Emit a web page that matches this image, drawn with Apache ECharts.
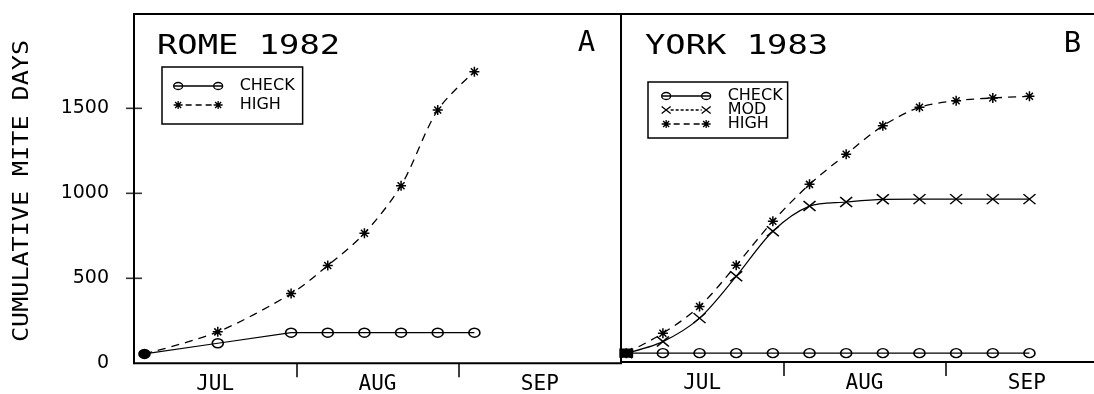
<!DOCTYPE html>
<html>
<head>
<meta charset="utf-8">
<script src="https://cdn.jsdelivr.net/npm/echarts@6/dist/echarts.min.js"></script>
<style>
html,body{margin:0;padding:0;background:#fff;}
#chart{width:1094px;height:394px;}
</style>
</head>
<body>
<div id="chart"></div>
<script>
// ---- data (days counted from 1 July; axis spans three equal month bands) ----
const months = ['JUL', 'AUG', 'SEP'];
const monthBounds = [31, 62];
const monthCenters = [15.5, 46.5, 77.5];
const yTickValues = [500, 1000, 1500];
const yLabelValues = [0, 500, 1000, 1500];
const yTitle = 'CUMULATIVE MITE DAYS';

const daysA = [2, 16, 30, 37, 44, 51, 58, 65];
const checkA = [55, 118, 180, 180, 180, 180, 180, 180];
const highA = [55, 185, 410, 575, 765, 1045, 1490, 1715];

const daysB = [1, 8, 15, 22, 29, 36, 43, 50, 57, 64, 71, 78];
const checkB = [52, 52, 52, 52, 52, 52, 52, 52, 52, 52, 52, 52];
const modB = [52, 120, 258, 504, 769, 917, 941, 957, 958, 958, 958, 958];
const highB = [52, 169, 327, 569, 828, 1045, 1222, 1389, 1498, 1537, 1553, 1563];

// ---- styling helpers ----
const BLACK = '#000';
const CLEAR = 'rgba(0,0,0,0)';
const MONO = '"DejaVu Sans Mono"';
const SANS = '"DejaVu Sans"';
const starSym = 'path://M0,5L10,5M5,0L5,10M1.5,1.5L8.5,8.5M1.5,8.5L8.5,1.5';
const crossSym = 'path://M0,0L10,10M0,10L10,0';

const iconCheck = 'path://M0,5L49,5M9,5A4.5,3.5,0,1,1,0,5A4.5,3.5,0,1,1,9,5M49,5A4.5,3.5,0,1,1,40,5A4.5,3.5,0,1,1,49,5M61,5';
const iconHigh = 'path://M0,5L9,5M4.5,1L4.5,9M1.5,2L7.5,8M1.5,8L7.5,2M40,5L49,5M44.5,1L44.5,9M41.5,2L47.5,8M41.5,8L47.5,2M12,5L18,5M22,5L28,5M32,5L38,5M61,5';
const iconMod = 'path://M0,1.5L9,8.5M0,8.5L9,1.5M40,1.5L49,8.5M40,8.5L49,1.5M9,5L12,5M14,5L17,5M19,5L22,5M24,5L27,5M29,5L32,5M34,5L37,5M39,5L40,5M61,5';
const legendItemStyle = {color: CLEAR, borderColor: BLACK, borderWidth: 1.3};

function pts(days, vals, firstStyle) {
  return days.map((d, i) => {
    if (i === 0 && firstStyle) return Object.assign({value: [d, vals[i]]}, firstStyle);
    return [d, vals[i]];
  });
}

function xAxisFor(gridIndex) {
  return {
    type: 'value', gridIndex: gridIndex, min: 0, max: 93,
    axisLine: {show: false},
    splitLine: {show: false},
    axisTick: {show: true, inside: false, length: 14, customValues: monthBounds,
               lineStyle: {color: BLACK, width: 1.5}},
    axisLabel: {show: true, customValues: monthCenters, margin: 11,
                formatter: v => months[monthCenters.indexOf(v)] || '',
                color: BLACK, fontFamily: MONO, fontSize: 21}
  };
}

const commonGrid = {show: true, borderColor: BLACK, borderWidth: 2, backgroundColor: 'transparent',
                    outerBoundsMode: 'none'};

const option = {
  animation: false,
  backgroundColor: '#fff',
  grid: [
    Object.assign({left: 134, top: 14, right: 473, bottom: 30.7}, commonGrid),
    Object.assign({left: 621, top: 14, right: -14, bottom: 32}, commonGrid)
  ],
  xAxis: [xAxisFor(0), xAxisFor(1)],
  yAxis: [
    {
      type: 'value', gridIndex: 0, min: 0, max: 2055, position: 'left',
      axisLine: {show: true, lineStyle: {color: BLACK, width: 2}},
      splitLine: {show: false},
      axisTick: {show: false},
      axisLabel: {show: true, customValues: yLabelValues, margin: 25,
                  formatter: v => String(v),
                  color: BLACK, fontFamily: SANS, fontSize: 19}
    },
    {
      type: 'value', gridIndex: 1, min: 0, max: 2047, show: false,
      splitLine: {show: false}
    }
  ],
  legend: [
    {
      left: 162, top: 67, orient: 'vertical', selectedMode: false,
      padding: [11, 8, 11, 11], itemGap: 3, itemWidth: 61, itemHeight: 10,
      borderColor: BLACK, borderWidth: 1.5,
      textStyle: {color: BLACK, fontFamily: SANS, fontSize: 16},
      data: [
        {name: 'CHECK', icon: iconCheck, itemStyle: legendItemStyle},
        {name: 'HIGH', icon: iconHigh, itemStyle: legendItemStyle}
      ]
    },
    {
      left: 648, top: 82, orient: 'vertical', selectedMode: false,
      padding: [6, 5, 6, 13], itemGap: -2, itemWidth: 61, itemHeight: 10,
      borderColor: BLACK, borderWidth: 1.5,
      textStyle: {color: BLACK, fontFamily: SANS, fontSize: 16},
      data: [
        {name: 'CHECK', icon: iconCheck, itemStyle: legendItemStyle},
        {name: 'MOD', icon: iconMod, itemStyle: legendItemStyle},
        {name: 'HIGH', icon: iconHigh, itemStyle: legendItemStyle}
      ]
    }
  ],
  graphic: [
    {type: 'text', x: 22, y: 191, rotation: Math.PI / 2, scaleX: 1.14,
     style: {text: yTitle, font: '22px ' + MONO, fill: BLACK, align: 'center', verticalAlign: 'middle'}},
    {type: 'text', x: 157, y: 47, scaleX: 1.3,
     style: {text: 'ROME 1982', font: '26px ' + MONO, fill: BLACK, align: 'left', verticalAlign: 'middle'}},
    {type: 'text', x: 586.5, y: 43,
     style: {text: 'A', font: '29px ' + MONO, fill: BLACK, align: 'center', verticalAlign: 'middle'}},
    {type: 'text', x: 645, y: 47, scaleX: 1.3,
     style: {text: 'YORK 1983', font: '26px ' + MONO, fill: BLACK, align: 'left', verticalAlign: 'middle'}},
    {type: 'text', x: 1072.5, y: 44,
     style: {text: 'B', font: '29px ' + MONO, fill: BLACK, align: 'center', verticalAlign: 'middle'}}
  ],
  series: [
    {
      // crossing y-axis tick marks, placed through the axis scale at x = 0
      type: 'scatter', xAxisIndex: 0, yAxisIndex: 0, silent: true, clip: false,
      data: yTickValues.map(v => [0, v]),
      symbol: 'rect', symbolSize: [16, 1.6],
      itemStyle: {color: BLACK}, z: 5
    },
    {
      name: 'CHECK', type: 'line', xAxisIndex: 0, yAxisIndex: 0,
      data: pts(daysA, checkA, {itemStyle: {color: BLACK}}),
      symbol: 'circle', symbolSize: [11, 9], showAllSymbol: true,
      itemStyle: {color: CLEAR, borderColor: BLACK, borderWidth: 1.5},
      lineStyle: {color: BLACK, width: 1.2, type: 'solid'},
      emphasis: {disabled: true}, z: 3
    },
    {
      name: 'HIGH', type: 'line', xAxisIndex: 0, yAxisIndex: 0,
      data: pts(daysA, highA),
      symbol: starSym, symbolSize: 10, showAllSymbol: true, smooth: 0.3,
      itemStyle: {color: CLEAR, borderColor: BLACK, borderWidth: 1.5},
      lineStyle: {color: BLACK, width: 1.3, type: [8, 6]},
      emphasis: {disabled: true}, z: 2
    },
    {
      name: 'CHECK', type: 'line', xAxisIndex: 1, yAxisIndex: 1,
      data: pts(daysB, checkB, {symbol: 'rect', symbolSize: [12, 8], itemStyle: {color: BLACK}}),
      symbol: 'circle', symbolSize: [11, 9], showAllSymbol: true,
      itemStyle: {color: CLEAR, borderColor: BLACK, borderWidth: 1.5},
      lineStyle: {color: BLACK, width: 1.2, type: 'solid'},
      emphasis: {disabled: true}, z: 3
    },
    {
      name: 'MOD', type: 'line', xAxisIndex: 1, yAxisIndex: 1,
      data: pts(daysB, modB),
      symbol: crossSym, symbolSize: [12, 10], showAllSymbol: true, smooth: 0.3,
      itemStyle: {color: CLEAR, borderColor: BLACK, borderWidth: 1.5},
      lineStyle: {color: BLACK, width: 1.2, type: 'solid'},
      emphasis: {disabled: true}, z: 2
    },
    {
      name: 'HIGH', type: 'line', xAxisIndex: 1, yAxisIndex: 1,
      data: pts(daysB, highB),
      symbol: starSym, symbolSize: 10, showAllSymbol: true, smooth: 0.3,
      itemStyle: {color: CLEAR, borderColor: BLACK, borderWidth: 1.5},
      lineStyle: {color: BLACK, width: 1.3, type: [8, 6]},
      emphasis: {disabled: true}, z: 2
    }
  ]
};

const chart = echarts.init(document.getElementById('chart'), null, {renderer: 'canvas'});
chart.setOption(option);
</script>
</body>
</html>
